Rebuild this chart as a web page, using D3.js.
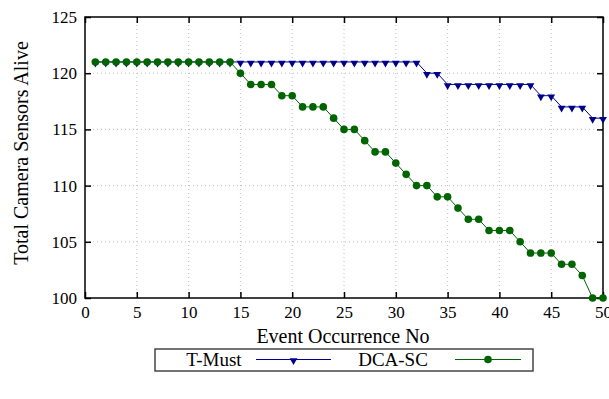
<!DOCTYPE html>
<html>
<head>
<meta charset="utf-8">
<script src="https://cdn.jsdelivr.net/npm/d3@7"></script>
<style>
  body { margin: 0; background: #fff; }
  text { font-family: "Liberation Serif", "Times New Roman", serif; fill: #000; }
</style>
</head>
<body>
<svg id="drawing_region"></svg>
<script>
const events = d3.range(1, 51);
const tMust = [121,121,121,121,121,121,121,121,121,121,
               121,121,121,121,121,121,121,121,121,121,
               121,121,121,121,121,121,121,121,121,121,
               121,121,120,120,119,119,119,119,119,119,
               119,119,119,118,118,117,117,117,116,116];
const dcaSc = [121,121,121,121,121,121,121,121,121,121,
               121,121,121,121,120,119,119,119,118,118,
               117,117,117,116,115,115,114,113,113,112,
               111,110,110,109,109,108,107,107,106,106,
               106,105,104,104,104,103,103,102,100,100];
const xTicks = [0, 5, 10, 15, 20, 25, 30, 35, 40, 45, 50];
const yTicks = [100, 105, 110, 115, 120, 125];
const seriesNames = ['T-Must', 'DCA-SC'];

const config = {
  width: 609,
  height: 399,
  margin: {top: 17, right: 6, bottom: 101, left: 85}
};

const svg = d3.select('#drawing_region')
    .attr('width', config.width)
    .attr('height', config.height);

const innerW = config.width - config.margin.left - config.margin.right;
const innerH = config.height - config.margin.top - config.margin.bottom;

const chart = svg.append('g')
    .attr('transform', `translate(${config.margin.left}, ${config.margin.top})`);

const xscale = d3.scaleLinear().domain([0, 50]).range([0, innerW]);
const yscale = d3.scaleLinear().domain([100, 125]).range([innerH, 0]);

// dotted grid
chart.append('g').selectAll('line').data(xTicks.slice(1, -1)).join('line')
    .attr('x1', d => xscale(d)).attr('x2', d => xscale(d))
    .attr('y1', 0).attr('y2', innerH)
    .attr('stroke', '#c0c0c0').attr('stroke-dasharray', '1,3');
chart.append('g').selectAll('line').data(yTicks.slice(1, -1)).join('line')
    .attr('y1', d => yscale(d)).attr('y2', d => yscale(d))
    .attr('x1', 0).attr('x2', innerW)
    .attr('stroke', '#c0c0c0').attr('stroke-dasharray', '1,3');

// axes with inward ticks
const xaxis = d3.axisBottom(xscale).tickValues(xTicks).tickSize(-6).tickPadding(8).tickSizeOuter(0);
const yaxis = d3.axisLeft(yscale).tickValues(yTicks).tickSize(-6).tickPadding(8).tickSizeOuter(0);
const xaxisTop = d3.axisTop(xscale).tickValues(xTicks).tickSize(-6).tickFormat('').tickSizeOuter(0);
const yaxisRight = d3.axisRight(yscale).tickValues(yTicks).tickSize(-6).tickFormat('').tickSizeOuter(0);

const gx = chart.append('g').attr('transform', `translate(0, ${innerH})`).call(xaxis);
const gy = chart.append('g').call(yaxis);
chart.append('g').call(xaxisTop);
chart.append('g').attr('transform', `translate(${innerW}, 0)`).call(yaxisRight);

chart.selectAll('.domain').remove();
chart.selectAll('.tick line').attr('stroke', '#000').attr('stroke-width', 1.5);
chart.selectAll('.tick text')
    .style('font-family', '"Liberation Serif", serif')
    .style('font-size', '17px')
    .attr('fill', '#000');
gy.selectAll('.tick text').attr('x', -8);

chart.append('rect')
    .attr('x', 0).attr('y', 0).attr('width', innerW).attr('height', innerH)
    .attr('fill', 'none').attr('stroke', '#000').attr('stroke-width', 1.5);

// lines
const line = d3.line().x(d => xscale(d[0])).y(d => yscale(d[1]));
const tData = events.map((e, i) => [e, tMust[i]]);
const dData = events.map((e, i) => [e, dcaSc[i]]);

const tri = d3.symbol().type(d3.symbolTriangle).size(26);

chart.append('path').datum(tData).attr('d', line)
    .attr('fill', 'none').attr('stroke', '#00008b').attr('stroke-width', 1);
chart.append('g').selectAll('path').data(tData).join('path')
    .attr('d', tri)
    .attr('transform', d => `translate(${xscale(d[0])}, ${yscale(d[1]) + 1}) rotate(180)`)
    .attr('fill', '#00008b');

chart.append('path').datum(dData).attr('d', line)
    .attr('fill', 'none').attr('stroke', '#006400').attr('stroke-width', 1);
chart.append('g').selectAll('circle').data(dData).join('circle')
    .attr('cx', d => xscale(d[0])).attr('cy', d => yscale(d[1]))
    .attr('r', 3.8).attr('fill', '#006400');

// axis titles
svg.append('text')
    .attr('x', 343).attr('y', 343)
    .attr('text-anchor', 'middle')
    .style('font-size', '20px')
    .text('Event Occurrence No');
svg.append('text')
    .attr('transform', 'translate(28, 153) rotate(-90)')
    .attr('text-anchor', 'middle')
    .style('font-size', '20px')
    .text('Total Camera Sensors Alive');

// legend
const legend = svg.append('g');
legend.append('rect')
    .attr('x', 155).attr('y', 349).attr('width', 378).attr('height', 22)
    .attr('fill', '#fff').attr('stroke', '#444').attr('stroke-width', 1.5);

const legendItems = [
  {name: seriesNames[0], tx: 214, x1: 256, x2: 331, color: '#00008b', mark: 'tri'},
  {name: seriesNames[1], tx: 393, x1: 455, x2: 521, color: '#006400', mark: 'dot'}
];
legendItems.forEach(it => {
  legend.append('text')
      .attr('x', it.tx).attr('y', 366)
      .attr('text-anchor', 'middle')
      .style('font-size', '19px')
      .text(it.name);
  legend.append('line')
      .attr('x1', it.x1).attr('x2', it.x2).attr('y1', 359.5).attr('y2', 359.5)
      .attr('stroke', it.color).attr('stroke-width', 1);
  const cx = (it.x1 + it.x2) / 2;
  if (it.mark === 'tri') {
    legend.append('path').attr('d', tri)
        .attr('transform', `translate(${cx}, 360.5) rotate(180)`)
        .attr('fill', it.color);
  } else {
    legend.append('circle').attr('cx', cx).attr('cy', 359.5).attr('r', 3.8).attr('fill', it.color);
  }
});
</script>
</body>
</html>
